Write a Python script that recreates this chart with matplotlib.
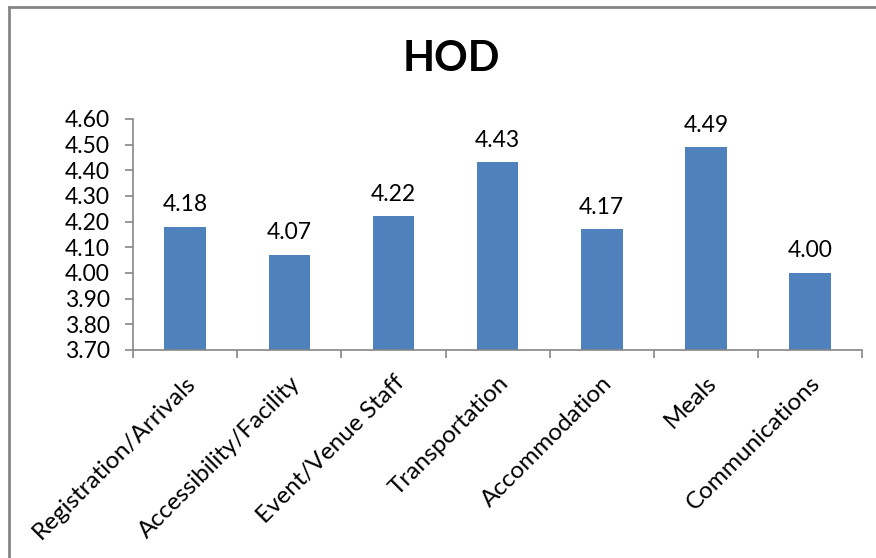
import matplotlib.pyplot as plt
import numpy as np
from matplotlib.lines import Line2D

categories = ['Registration/Arrivals', 'Accessibility/Facility', 'Event/Venue Staff',
              'Transportation', 'Accommodation', 'Meals', 'Communications']
scores = [4.18, 4.07, 4.22, 4.43, 4.17, 4.49, 4.00]
y_ticks = [3.70, 3.80, 3.90, 4.00, 4.10, 4.20, 4.30, 4.40, 4.50, 4.60]

plt.rcParams['font.family'] = ['Lato', 'DejaVu Sans']

fig = plt.figure(figsize=(8.76, 5.58), dpi=100)
ax = fig.add_axes([0.152, 0.373, 0.832, 0.414])

x = np.arange(len(categories))
base = y_ticks[0]
heights = [s - base for s in scores]
ax.bar(x, heights, bottom=base, width=0.4, color='#4F81BD', zorder=2)

for xi, s in zip(x, scores):
    ax.text(xi, s + 0.045, f'{s:.2f}', ha='center', va='bottom', fontsize=16.5)

ax.set_xlim(-0.5, len(categories) - 0.5)
ax.set_ylim(y_ticks[0], y_ticks[-1])
ax.set_yticks(y_ticks)
ax.set_yticklabels([f'{t:.2f}' for t in y_ticks], fontsize=16.5)

ax.set_xticks(x)
ax.set_xticklabels(categories, rotation=45, ha='right', rotation_mode='anchor', fontsize=17.5)
ax.tick_params(axis='x', which='major', length=0, pad=16)
ax.set_xticks(np.arange(len(categories) + 1) - 0.5, minor=True)
ax.tick_params(axis='x', which='minor', length=6, color='#868686', width=1.2)
ax.tick_params(axis='y', length=6, color='#868686', width=1.2, pad=11)

for side in ['top', 'right']:
    ax.spines[side].set_visible(False)
for side in ['left', 'bottom']:
    ax.spines[side].set_color('#868686')
    ax.spines[side].set_linewidth(1.2)

fig.text(0.515, 0.895, 'HOD', ha='center', va='center', fontsize=30, fontweight='bold')

# chart frame: top and left edges only
fx0 = 8.5 / 876
fy0 = 1 - 6.5 / 558
fig.add_artist(Line2D([fx0, 1.0], [fy0, fy0], transform=fig.transFigure,
                      color='#868686', linewidth=2))
fig.add_artist(Line2D([fx0, fx0], [0.0, fy0], transform=fig.transFigure,
                      color='#868686', linewidth=2))

fig.savefig('out.png', dpi=100)
